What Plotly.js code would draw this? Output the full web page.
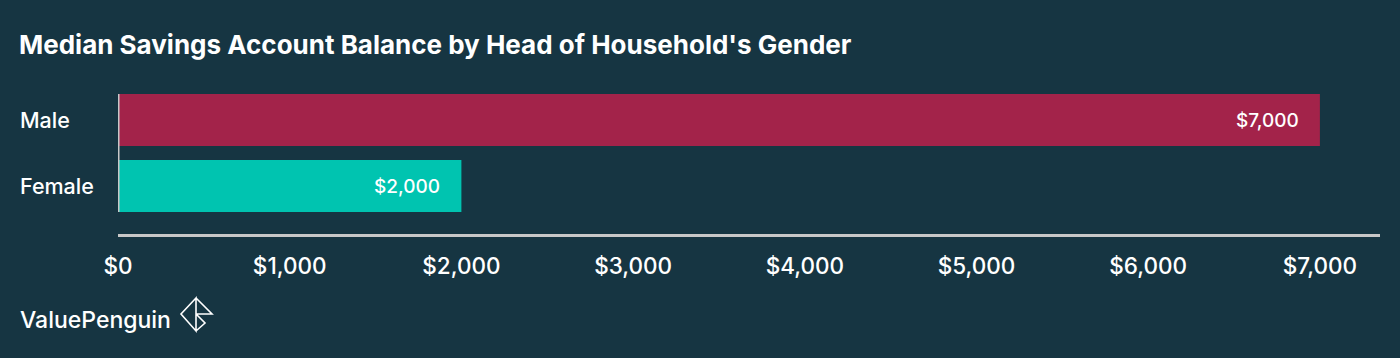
<!DOCTYPE html>
<html>
<head>
<meta charset="utf-8">
<script src="https://cdn.plot.ly/plotly-3.0.1.min.js"></script>
<style>html,body{margin:0;padding:0;background:#163542;}#chart{width:1400px;height:358px;}</style>
</head>
<body>
<div id="chart"></div>
<script>
const categories = ["Male", "Female"];
const values = [7000, 2000];
const barColors = ["#A3234A", "#00C4B0"];
const valueLabels = ["$7,000", "$2,000"];
const tickValues = [0, 1000, 2000, 3000, 4000, 5000, 6000, 7000];
const tickLabels = ["$0", "$1,000", "$2,000", "$3,000", "$4,000", "$5,000", "$6,000", "$7,000"];

const W = 1400, H = 358;
const L = 118, R = 20, T = 87, B = 124;
const pw = W - L - R, ph = H - T - B;
const px = x => (x - L) / pw;
const py = y => (H - B - y) / ph;

const FONT = "Inter, 'Open Sans', sans-serif";

const trace = {
  type: "bar",
  orientation: "h",
  y: categories,
  x: values,
  marker: { color: barColors, line: { width: 0 } },
  hoverinfo: "none",
  width: 0.788
};

const annotations = [];
categories.forEach((c, i) => {
  annotations.push({
    xref: "paper", yref: "y", x: px(18), y: c, xanchor: "left", yanchor: "middle",
    text: c, showarrow: false, font: { family: FONT, size: 21.5, color: "#ffffff", weight: 500 }
  });
  annotations.push({
    xref: "x", yref: "y", x: values[i], y: c, xanchor: "right", yanchor: "middle", xshift: -19,
    text: valueLabels[i], showarrow: false, font: { family: FONT, size: 19, color: "#ffffff", weight: 500 }
  });
});
annotations.push({
  xref: "paper", yref: "paper", x: px(18), y: py(320), xanchor: "left", yanchor: "middle",
  text: "ValuePenguin", showarrow: false, font: { family: FONT, size: 23, color: "#ffffff", weight: 500 }
});

// logo icon path (pixel coords -> paper)
const P = (x, y) => px(x).toFixed(5) + "," + py(y).toFixed(5);
const logoPath =
  "M" + P(196, 298) + " L" + P(181, 314) + " L" + P(196, 331) + " Z" +
  " M" + P(196, 298) + " L" + P(212, 314) + " L" + P(196, 314) +
  " M" + P(196, 314) + " L" + P(205, 323) + " L" + P(196, 331);

const shapes = [
  { type: "line", xref: "x", yref: "y", x0: 0, x1: 0, y0: -0.394, y1: 1.394,
    line: { color: "#c8c8c8", width: 3 } },
  { type: "path", xref: "paper", yref: "paper", path: logoPath,
    line: { color: "#ffffff", width: 1.6 } }
];

const layout = {
  width: W, height: H,
  paper_bgcolor: "#163542",
  plot_bgcolor: "#163542",
  margin: { l: L, r: R, t: T, b: B, pad: 0 },
  showlegend: false,
  title: {
    text: "Median Savings Account Balance by Head of Household's Gender",
    xref: "container", yref: "container", x: 19 / W, y: 1 - 45 / H,
    xanchor: "left", yanchor: "middle",
    font: { family: FONT, size: 26, color: "#ffffff", weight: 700 }
  },
  xaxis: {
    range: [0, 7350],
    tickvals: tickValues,
    ticktext: tickLabels,
    showgrid: false, zeroline: false,
    showline: true, linecolor: "#c8c8c8", linewidth: 3,
    ticks: "",
    ticklabelstandoff: 10,
    tickfont: { family: FONT, size: 22.5, color: "#ffffff", weight: 500 },
    fixedrange: true
  },
  yaxis: {
    type: "category",
    range: [1.727, -0.5],
    showticklabels: false,
    showgrid: false, zeroline: false, showline: false,
    ticks: "",
    fixedrange: true
  },
  annotations: annotations,
  shapes: shapes
};

Plotly.newPlot("chart", [trace], layout, { displayModeBar: false, staticPlot: true });
</script>
</body>
</html>
